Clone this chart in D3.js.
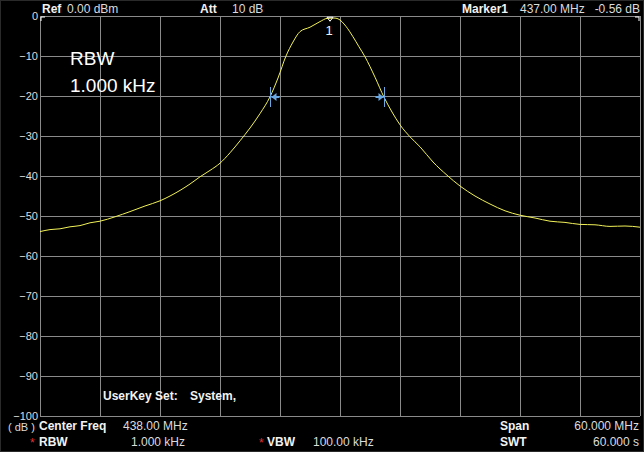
<!DOCTYPE html>
<html>
<head>
<meta charset="utf-8">
<script src="https://cdn.jsdelivr.net/npm/d3@7"></script>
<style>
  html, body { margin: 0; padding: 0; background: #000; }
  svg { display: block; font-family: "Liberation Sans", Arial, sans-serif; }
  .lbl { fill: #f2f2f2; font-weight: bold; font-size: 12px; }
  .val { fill: #dcdcdc; font-size: 12px; }
</style>
</head>
<body>
<div class="chart"></div>
<script>
//Trace (MHz, dB)
var freqs = [408.0, 409.0, 410.0, 411.0, 412.0, 413.0, 414.0, 415.5, 417.0, 418.5,
             420.0, 421.0, 422.0, 423.0, 424.0, 425.0, 426.0, 427.0, 428.0, 429.0,
             430.0, 431.0, 431.8, 432.6, 433.3, 434.0, 435.0, 436.0, 436.7, 437.0,
             437.4, 437.8, 438.6, 439.3, 439.9, 440.5, 441.5, 442.4, 443.2, 444.0,
             445.0, 446.0, 447.3, 448.7, 450.0, 451.5, 453.0, 454.5, 456.0, 457.5,
             459.0, 460.5, 462.0, 463.5, 465.0, 466.5, 468.0];
var levels = [-53.9, -53.4, -53.2, -52.7, -52.4, -51.7, -51.3, -50.2, -48.9, -47.5,
              -46.2, -45.0, -43.6, -42.0, -40.2, -38.6, -36.8, -34.2, -31.2, -28.0,
              -24.4, -20.2, -15.5, -10.0, -6.5, -3.9, -2.8, -1.4, -0.6, -0.56,
              -0.5, -0.7, -2.6, -5.2, -7.7, -10.2, -15.3, -20.3, -24.0, -27.2,
              -30.2, -32.7, -36.5, -39.8, -42.5, -45.0, -47.0, -48.7, -49.8, -50.5,
              -51.3, -51.6, -52.1, -52.2, -52.6, -52.5, -52.8];

//Grid and labels
var freqGrid = [408, 414, 420, 426, 432, 438, 444, 450, 456, 462, 468];
var dbTicks = [0, -10, -20, -30, -40, -50, -60, -70, -80, -90, -100];

//Marker 1 and the two -20 dB markers
var peakMarker = {freq: 437.0, db: -0.56};
var bwMarkers = [{freq: 431.0, dir: -1}, {freq: 442.45, dir: 1}];

function chart(){
  var w = 644;
  var h = 452;

  var svg = d3.select(".chart")
              .append("svg")
              .attr("width", w)
              .attr("height", h);

  svg.append("rect")
      .attr("x", 0.5).attr("y", 0.5)
      .attr("width", w - 1).attr("height", h - 1)
      .attr("fill", "#000")
      .attr("stroke", "#2a2a2a");

  var x = d3.scaleLinear()
            .domain([408, 468])
            .range([40, 640]);

  var y = d3.scaleLinear()
            .domain([-100, 0])
            .range([416, 16]);

  //Vertical grid lines
  svg.append("g")
      .attr("transform", "translate(0,16)")
      .call(d3.axisBottom(x).tickValues(freqGrid).tickSize(400).tickFormat(""))
      .call(function(g){
        g.select(".domain").remove();
        g.selectAll("line").attr("stroke", "#8a8a8a").attr("shape-rendering", "crispEdges");
      });

  //Horizontal grid lines
  svg.append("g")
      .attr("transform", "translate(40,0)")
      .call(d3.axisRight(y).tickValues(dbTicks).tickSize(600).tickFormat(""))
      .call(function(g){
        g.select(".domain").remove();
        g.selectAll("line").attr("stroke", "#8a8a8a").attr("shape-rendering", "crispEdges");
      });

  //Y labels
  svg.append("g")
      .attr("transform", "translate(40,0)")
      .call(d3.axisLeft(y).tickValues(dbTicks).tickSize(0).tickPadding(2))
      .call(function(g){
        g.select(".domain").remove();
        g.selectAll("text")
          .attr("fill", "#dcdcdc")
          .style("font-size", "11px")
          .style("font-family", "Liberation Sans, Arial, sans-serif");
      });

  //Little corner ticks
  svg.append("path")
      .attr("d", "M41,21V17H45M635,17H639V21")
      .attr("fill", "none")
      .attr("stroke", "#fff");

  //Trace
  var line = d3.line()
               .x(function(d){ return x(d[0]); })
               .y(function(d){ return y(d[1]); })
               .curve(d3.curveMonotoneX);

  svg.append("path")
      .datum(d3.zip(freqs, levels))
      .attr("d", line)
      .attr("fill", "none")
      .attr("stroke", "#f2f25a")
      .attr("stroke-width", 1);

  //Peak marker
  var px = x(peakMarker.freq), py = y(peakMarker.db);
  svg.append("path")
      .attr("d", "M" + (px - 3) + "," + (py - 1) + "H" + (px + 3) + "L" + px + "," + (py + 3) + "Z")
      .attr("fill", "none")
      .attr("stroke", "#fff");
  svg.append("text")
      .attr("x", px - 1).attr("y", py + 17)
      .attr("text-anchor", "middle")
      .attr("fill", "#f2f2f2")
      .style("font-size", "13px")
      .text("1");

  //-20 dB markers
  var my = y(-20);
  bwMarkers.forEach(function(m){
    var mx = Math.round(x(m.freq)) + 0.5;
    svg.append("line")
        .attr("x1", mx).attr("x2", mx)
        .attr("y1", my - 9).attr("y2", my + 11)
        .attr("stroke", "#6aa6e0");
    var tip = mx - m.dir * 1;
    var tail = mx - m.dir * 9;
    svg.append("line")
        .attr("x1", tail).attr("x2", tip)
        .attr("y1", my + 1).attr("y2", my + 1)
        .attr("stroke", "#6aa6e0").attr("stroke-width", 2);
    svg.append("path")
        .attr("d", "M" + tip + "," + (my + 1) + "L" + (tip - m.dir * 5) + "," + (my - 3) + "V" + (my + 5) + "Z")
        .attr("fill", "#6aa6e0");
  });

  //Header
  svg.append("text").attr("class", "lbl").attr("x", 42).attr("y", 13).text("Ref");
  svg.append("text").attr("class", "val").attr("x", 67).attr("y", 13).text("0.00 dBm");
  svg.append("text").attr("class", "lbl").attr("x", 200).attr("y", 13).text("Att");
  svg.append("text").attr("class", "val").attr("x", 232).attr("y", 13).text("10 dB");
  svg.append("text").attr("class", "lbl").attr("x", 462).attr("y", 13).text("Marker1");
  svg.append("text").attr("class", "val").attr("x", 520).attr("y", 13).text("437.00 MHz");
  svg.append("text").attr("class", "val").attr("x", 640).attr("y", 13).attr("text-anchor", "end").text("-0.56 dB");

  //Big RBW note
  svg.append("text").attr("x", 70).attr("y", 65).attr("fill", "#fff").style("font-size", "19px").text("RBW");
  svg.append("text").attr("x", 70).attr("y", 92).attr("fill", "#fff").style("font-size", "19px").text("1.000 kHz");

  svg.append("text").attr("class", "lbl").attr("x", 103).attr("y", 400).text("UserKey Set:");
  svg.append("text").attr("class", "lbl").attr("x", 190).attr("y", 400).text("System,");

  //Footer
  svg.append("text").attr("class", "val").attr("x", 8).attr("y", 431).style("font-size", "11px").text("( dB )");
  svg.append("text").attr("class", "lbl").attr("x", 39).attr("y", 430).text("Center Freq");
  svg.append("text").attr("class", "val").attr("x", 123).attr("y", 430).text("438.00 MHz");
  svg.append("text").attr("class", "lbl").attr("x", 500).attr("y", 430).text("Span");
  svg.append("text").attr("class", "val").attr("x", 639).attr("y", 430).attr("text-anchor", "end").text("60.000 MHz");

  svg.append("text").attr("x", 30).attr("y", 447).attr("fill", "#e03030").style("font-size", "12px").text("*");
  svg.append("text").attr("class", "lbl").attr("x", 39).attr("y", 446).text("RBW");
  svg.append("text").attr("class", "val").attr("x", 185).attr("y", 446).attr("text-anchor", "end").text("1.000 kHz");
  svg.append("text").attr("x", 259).attr("y", 447).attr("fill", "#e03030").style("font-size", "12px").text("*");
  svg.append("text").attr("class", "lbl").attr("x", 267).attr("y", 446).text("VBW");
  svg.append("text").attr("class", "val").attr("x", 313).attr("y", 446).text("100.00 kHz");
  svg.append("text").attr("class", "lbl").attr("x", 500).attr("y", 446).text("SWT");
  svg.append("text").attr("class", "val").attr("x", 639).attr("y", 446).attr("text-anchor", "end").text("60.000 s");
}

chart();
</script>
</body>
</html>
